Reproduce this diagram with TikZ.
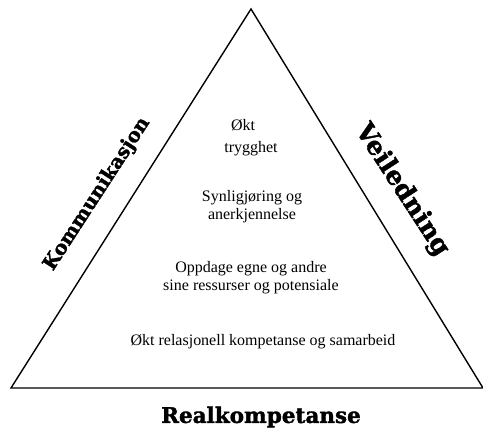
\documentclass[tikz,border=0pt]{standalone}
\usepackage{fontspec}
\setmainfont{Liberation Serif}
\newfontfamily\heavyfont{DejaVu Serif Bold}[FakeBold=1.6]
\begin{document}
\begin{tikzpicture}[x=1pt,y=1pt,
  body/.style={font=\fontsize{16}{18}\selectfont, align=center, inner sep=0pt},
  heavy/.style={font=\heavyfont\fontsize{21.5}{24}\selectfont, inner sep=0pt},
  edge/.style={line width=1.4pt, line join=miter}]
\useasboundingbox (0,0) rectangle (483,441);
\coordinate (apex) at (251,432);
\coordinate (bl) at (11,53);
\coordinate (br) at (483,53);
\draw[edge] (apex) -- (bl) -- (br) -- cycle;
\node[body] (okt) at (243,316) {Økt};
\node[body] (tryg) at (251,292) {trygghet};
\node[body] (syn) at (252,234.5) {Synligjøring og\\anerkjennelse};
\node[body] (opp) at (251,163) {Oppdage egne og andre\\sine ressurser og potensiale};
\node[body] (rel) at (263,99) {Økt relasjonell kompetanse og samarbeid};
\node[heavy] (real) at (261,24) {Realkompetanse};
\node[heavy, font=\heavyfont\fontsize{19.5}{21}\selectfont, rotate=57] (kom) at (97,247) {Kommunikasjon};
\node[heavy, font=\heavyfont\fontsize{25.5}{27}\selectfont, rotate=-57] (vei) at (402,251) {Veiledning};
\end{tikzpicture}
\end{document}
